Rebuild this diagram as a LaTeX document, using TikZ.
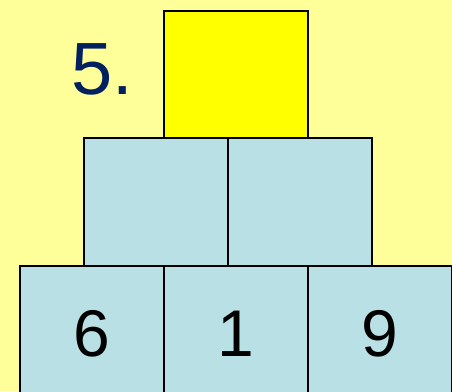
\documentclass[tikz,border=0pt]{standalone}
\usepackage{fontspec}
\setmainfont{Liberation Sans}
\definecolor{bgyellow}{HTML}{FFFF99}
\definecolor{topyellow}{HTML}{FFFF00}
\definecolor{cellblue}{HTML}{B9E0E4}
\definecolor{navy}{HTML}{002060}
\begin{document}
\begin{tikzpicture}[x=1pt,y=1pt,
  cell/.style={draw=black,line width=2pt,fill=cellblue,minimum width=144pt,minimum height=128pt,inner sep=0pt,outer sep=0pt,
    font=\fontsize{66}{66}\selectfont},
  topcell/.style={cell,fill=topyellow,minimum height=127pt},
  basecell/.style={cell,minimum height=135pt}]
\useasboundingbox (0,0) rectangle (452,391);
\clip (0,0) rectangle (452,391);
\fill[bgyellow] (0,0) rectangle (452,391);
\node[topcell] (t) at (236,316.5) {};
\node[cell] (m1) at (156,189) {};
\node[cell] (m2) at (300,189) {};
\node[basecell] (b1) at (92,57.5) {6};
\node[basecell] (b2) at (236,57.5) {1};
\node[basecell] (b3) at (380,57.5) {9};
\node[anchor=base west,inner sep=0pt,text=navy,font=\fontsize{74}{74}\selectfont] (lab) at (71,296) {5.};
\end{tikzpicture}
\end{document}
